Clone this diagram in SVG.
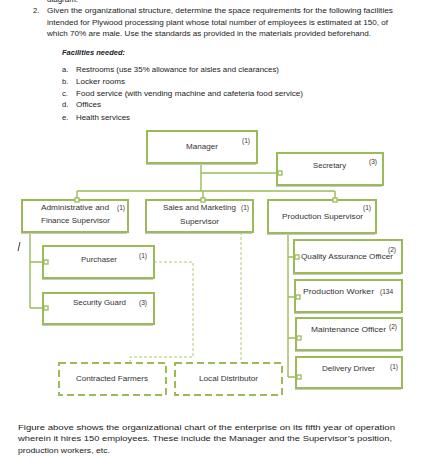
<svg xmlns="http://www.w3.org/2000/svg" width="434" height="468" viewBox="0 0 434 468">
<style>
text{font-family:"Liberation Sans",Arial,sans-serif;fill:#222}
.p{font-size:7.6px}
.l{font-size:6.6px;fill:#333}
.box{fill:#fff;stroke:#9BBB59;stroke-width:2}
.sh{fill:#c8c8c8}
.dbox{fill:#fff;stroke:#9BBB59;stroke-width:2;stroke-dasharray:7 4}
.conn{fill:none;stroke:#9BBB59;stroke-width:1.4}
.dl{fill:none;stroke:#9BBB59;stroke-width:0.8;stroke-dasharray:3 2}
.sq{fill:#fff;stroke:#9BBB59;stroke-width:1.3}
</style>
<rect width="434" height="468" fill="#fff"/>
<g id="header">
<text class="p" x="47" y="1.5" textLength="31" lengthAdjust="spacingAndGlyphs">diagram.</text>
<text class="p" x="33" y="12.5">2.</text>
<text class="p" x="47" y="12.5" textLength="346" lengthAdjust="spacingAndGlyphs">Given the organizational structure, determine the space requirements for the following facilities</text>
<text class="p" x="47" y="24.5" textLength="341" lengthAdjust="spacingAndGlyphs">intended for Plywood processing plant whose total number of employees is estimated at 150, of</text>
<text class="p" x="47" y="36" textLength="324" lengthAdjust="spacingAndGlyphs">which 70% are male. Use the standards as provided in the materials provided beforehand.</text>
<text class="p" x="62" y="55" font-weight="bold" font-style="italic" textLength="63" lengthAdjust="spacingAndGlyphs">Facilities needed:</text>
<text class="p" x="62" y="72">a.</text>
<text class="p" x="76" y="72" textLength="203" lengthAdjust="spacingAndGlyphs">Restrooms (use 35% allowance for aisles and clearances)</text>
<text class="p" x="62" y="84">b.</text>
<text class="p" x="76" y="84" textLength="49" lengthAdjust="spacingAndGlyphs">Locker rooms</text>
<text class="p" x="62" y="96">c.</text>
<text class="p" x="76" y="96" textLength="227" lengthAdjust="spacingAndGlyphs">Food service (with vending machine and cafeteria food service)</text>
<text class="p" x="62" y="107">d.</text>
<text class="p" x="76" y="107" textLength="25" lengthAdjust="spacingAndGlyphs">Offices</text>
<text class="p" x="62" y="120">e.</text>
<text class="p" x="76" y="120" textLength="54" lengthAdjust="spacingAndGlyphs">Health services</text>
</g>
<g id="connectors">
<path class="conn" d="M201 163V191M201 173H280M77 191H335M77 191V200M203 191V200M335 191V200"/>
<path class="conn" d="M30 232V308M30 262H44M30 308H44"/>
<path class="conn" d="M288 233V377M288 257H295M288 297H296M288 338H297M288 377H297"/>
<path class="dl" d="M154 262H193V357H130V363"/>
<path class="dl" d="M241 232V363"/>
<line x1="20" y1="242" x2="18" y2="251" stroke="#111" stroke-width="0.8"/>
</g>
<g id="manager">
<rect class="sh" x="146" y="133" width="110" height="32"/>
<rect class="box" x="147" y="131" width="110" height="32"/>
<text class="l" x="186" y="149" textLength="32" lengthAdjust="spacingAndGlyphs">Manager</text>
<text class="l" x="242" y="143">(1)</text>
</g>
<g id="secretary">
<rect class="sh" x="276" y="155" width="106" height="32"/>
<rect class="box" x="277" y="153" width="106" height="32"/>
<text class="l" x="313" y="168" textLength="33" lengthAdjust="spacingAndGlyphs">Secretary</text>
<text class="l" x="369" y="164">(3)</text>
<rect class="sq" x="278" y="171" width="4" height="4"/>
</g>
<g id="admin">
<rect class="sh" x="21" y="202" width="106" height="32"/>
<rect class="box" x="22" y="200" width="106" height="32"/>
<text class="l" x="41" y="210" textLength="68" lengthAdjust="spacingAndGlyphs">Administrative and</text>
<text class="l" x="117" y="210">(1)</text>
<text class="l" x="41" y="223" textLength="69" lengthAdjust="spacingAndGlyphs">Finance Supervisor</text>
<rect class="sq" x="75" y="198" width="4" height="4"/>
</g>
<g id="sales">
<rect class="sh" x="145" y="202" width="107" height="32"/>
<rect class="box" x="146" y="200" width="107" height="32"/>
<text class="l" x="163" y="210" textLength="73" lengthAdjust="spacingAndGlyphs">Sales and Marketing</text>
<text class="l" x="241" y="210">(1)</text>
<text class="l" x="180" y="224" textLength="39" lengthAdjust="spacingAndGlyphs">Supervisor</text>
<rect class="sq" x="201" y="198" width="4" height="4"/>
</g>
<g id="production">
<rect class="sh" x="267" y="202" width="108" height="33"/>
<rect class="box" x="268" y="200" width="108" height="33"/>
<text class="l" x="282" y="219" textLength="81" lengthAdjust="spacingAndGlyphs">Production Supervisor</text>
<text class="l" x="363" y="210">(1)</text>
<rect class="sq" x="333" y="198" width="4" height="4"/>
</g>
<g id="purchaser">
<rect class="sh" x="42" y="248" width="111" height="32"/>
<rect class="box" x="43" y="246" width="111" height="32"/>
<text class="l" x="81" y="262" textLength="36" lengthAdjust="spacingAndGlyphs">Purchaser</text>
<text class="l" x="139" y="258">(1)</text>
<rect class="sq" x="44" y="260" width="4" height="4"/>
</g>
<g id="security">
<rect class="sh" x="42" y="295" width="111" height="31"/>
<rect class="box" x="43" y="293" width="111" height="31"/>
<text class="l" x="73" y="305" textLength="53" lengthAdjust="spacingAndGlyphs">Security Guard</text>
<text class="l" x="139" y="305">(3)</text>
<rect class="sq" x="44" y="306" width="4" height="4"/>
</g>
<g id="farmers">
<rect class="dbox" x="59" y="363" width="107" height="32"/>
<text class="l" x="76" y="381" textLength="72" lengthAdjust="spacingAndGlyphs">Contracted Farmers</text>
</g>
<g id="distributor">
<rect class="dbox" x="175" y="363" width="107" height="32"/>
<text class="l" x="199" y="381" textLength="59" lengthAdjust="spacingAndGlyphs">Local Distributor</text>
</g>
<g id="qa">
<rect class="sh" x="293" y="242" width="108" height="33"/>
<rect class="box" x="294" y="240" width="108" height="33"/>
<text class="l" x="301" y="259" textLength="92" lengthAdjust="spacingAndGlyphs">Quality Assurance Officer</text>
<text class="l" x="388" y="252">(2)</text>
<rect class="sq" x="295" y="255" width="4" height="4"/>
</g>
<g id="worker">
<rect class="sh" x="294" y="282" width="107" height="32"/>
<rect class="box" x="295" y="280" width="107" height="32"/>
<text class="l" x="303" y="294" textLength="71" lengthAdjust="spacingAndGlyphs">Production Worker</text>
<text class="l" x="380" y="294">(134</text>
<rect class="sq" x="296" y="295" width="4" height="4"/>
</g>
<g id="maintenance">
<rect class="sh" x="295" y="320" width="106" height="32"/>
<rect class="box" x="296" y="318" width="106" height="32"/>
<text class="l" x="311" y="332" textLength="75" lengthAdjust="spacingAndGlyphs">Maintenance Officer</text>
<text class="l" x="389" y="329">(2)</text>
<rect class="sq" x="297" y="336" width="4" height="4"/>
</g>
<g id="driver">
<rect class="sh" x="295" y="359" width="106" height="31"/>
<rect class="box" x="296" y="357" width="106" height="31"/>
<text class="l" x="322" y="371" textLength="53" lengthAdjust="spacingAndGlyphs">Delivery Driver</text>
<text class="l" x="390" y="369">(1)</text>
<rect class="sq" x="297" y="375" width="4" height="4"/>
</g>
<g id="footer">
<text class="p" x="18" y="430" textLength="377" lengthAdjust="spacingAndGlyphs">Figure above shows the organizational chart of the enterprise on its fifth year of operation</text>
<text class="p" x="18" y="441" textLength="374" lengthAdjust="spacingAndGlyphs">wherein it hires 150 employees. These include the Manager and the Supervisor’s position,</text>
<text class="p" x="18" y="453" textLength="92" lengthAdjust="spacingAndGlyphs">production workers, etc.</text>
</g>
</svg>
